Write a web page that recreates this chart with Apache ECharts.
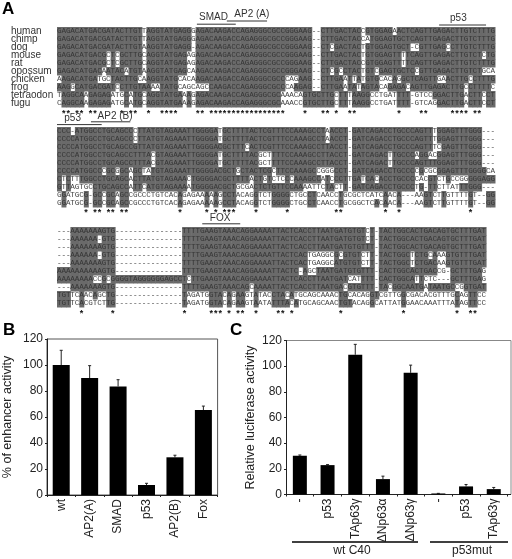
<!DOCTYPE html>
<html>
<head>
<meta charset="utf-8">
<style>
html, body { margin: 0; padding: 0; background: #fff; }
#main { width: 512px; height: 559px; }
</style>
<script src="https://cdn.jsdelivr.net/npm/echarts@6/dist/echarts.min.js"></script>
</head>
<body>
<div id="main"></div>
<script>
// species names, top to bottom
var species = ['human', 'chimp', 'dog', 'mouse', 'rat', 'opossum', 'chicken', 'frog', 'tetraodon', 'fugu'];

// alignment: upper case sits on grey, lower case and dashes on white
var block1 = [
    'GAGACATGAC GATACTTGTt AGGTATGAGG gAGACAAGAC CAGAGGGCGC CGGGAAG--C TTGACTACcG TGGAGaACTC AGTTGAGACT TGTCTTTG',
    'GAGACATGAC GATACTTGTt AGGTATGAGG gAGACAAGAC CAGAGGGCGC CGGGAAG--C TTGACTACca TGGAGTGCTC AGTTGAGACT TGTCTTTG',
    'GAGACATGAC GATACTTGTa AGGTATGAGG -AGACAAGAC CAGAGGGCGC CGGGAAG--C TcGACTACtG TGGAGTGCT- cGTTGAGcCT TGTCTTTG',
    'GAGACATGAC GcTcGCTTGc AGGTATGAGa gAGACAAGAC CAGAGGGCGC CGGGAAG--C TTGACTACtG TGGAGTTtTC AGTTGAGACT TGTCTcTG',
    'GAGACATGAC GcTcGCTTGc AGGTATGAGa gAGACAAGAC CAGAGGGCGC CGGGAAG--C TTGACTACcG TGGAGTTtTC AGTTGAGACT TGTCTTTG',
    'GAGACATGAC aATACaTGTa AGGTATGAGc aAGACAAGAC CAGAGGGCGC CGGGAAG--C TcGcCTACtG TcGAGTGCTC cGTTGAGACT TGTCTgca',
    'aAGACATGAt gcTACTTGca AGGTATGcac aAGACAAGAC CAGAGGGCGC CcagAAG--C TTGAaTtAtG TGcacAgGCT CAGTTgaACT TGcCTTTG',
    'AAGgCATGAC GATcCTTGTA AaaTATGcag cagcCAAGAC CAGAGGGCGC CcaAGAG--C TTGAaTAtAG TAcaGAGAcA GTTGAGACTT GcCTTTTc',
    'tAGGCAaGAG AGatgCaTGc AGGTATGAaA gAGACAAGAC CAGAGGGCGC aaacaGTGCT TGcTTtAAGG cctgatTTT- gtccGGACTT GaCTTcCT',
    'cAGGCAaGAG AGatgCaTGc AGGTATGAaA gAGACAAGAC CAGAGGGCGC aaaccGTGCT TGcTTtAAGG cctgatTTT- gtcagGACTT GaCTTcCT'
];
var block2 = [
    'CCC-ATGGCC TGCAGCCcTT ATGTAGAAAT TGGGGAtGCT TTTACTCGTT TCCAAAGCCT aACCT-GATC AGACCTGCCC AGTTtGGAGT TTGGG---',
    'CCCCATGGCC TGCAGCCcTT ATGTAGAAAT TGGGGAtGCT TTTACTCGTT TCCAAAGCCT aACCT-GATC AGACCTGCCC AGTTtGGAGT TTGGG---',
    'CCCCATGGCC TGCAGCCGTT ATGTAGAAAT TGGGGACGCT TTcACTCGTT TCCAAAGCCT TACCT-GATC AGACCTGCCC AGTTtcGAGT TTGGG---',
    'CCCCATGGCC TGCAGCCTTT AcGTAGAAAT TGGGGAtGCT TTTACgctTT TCCAAAGCCT TACCT-GATC AGACtTGCCC aGGacGGAGT TTGGG---',
    'CCCCATGGCC TGCAGCCTTT AcGTAGAAAT TGGGGAtGCT TTTACgctTT TCCAAAGCCT TACCT-GATC AGACtTGCCC AGTTTGGAGT TTGGG---',
    'CCCCATGGCC cGCgGCaGCt aTGTAGAAAT TGGGGACGCT gCTACTCGcT TCCAAAGCcg ggCCT-GATC AGACCTGCCC cGcgcGGAGT TTGGGGca',
    'CtCttTGGCC TGCAGCaCTT ATGTAGAAAc TGGGGACGCT TTTaCTgTct cCcAAAGCCa TcCCTtGAtC AcACCTGCCC cacGTctGcc ggGGGAGG',
    'GtTagtgcCT GCAGCCaTTc ATGTAGAAAa TGGGGACGCT gcgaCTCTGT TCCAAaattc TActT-GATC AGACCTGCCC tG-TTcttat TTGGG---',
    'gGatgcG-GC cGCaGCcgcc ctgtcacAga gaaAaAgCCT acagGtctGG GGctgcCTca accTgcgctc atcAacA--- aaGTctTgtt ttGt--GG',
    'gGatgcG-GC cGCaGCcgcc ctgtcacAga gaaAaAgCCT acagGtctGG GGctgcCTca accTgcggct cAcAacA--- aaGTctTgtt ttGt--GG'
];
var block3 = [
    '---AAAAAAA GTG------- --------TT TTGAAGTAAA CAGGAAAATT ACTCACCTTA ATGATGTGTc T-TACTGGCA CTGACAGTGC TTTGAT',
    '---AAAAAA- GTG------- --------TT TTGAAGTAAA CAGGAAAATT ACTCACCTTA ATGATGTGTc T-TACTGGCA CTGACAGTGC TTTGAT',
    '---AAAAAAA GTG------- --------TT TTGAAGTAAA CAGGAAAATT ACTCACCTTA ATGATGTGTT T-TACTGGCA CTGACAGTGC TTTGAT',
    '---AAAAAA- GTG------- --------TT TTGAAGTAAA CAGGAAAATT ACTCACtgag gcGcGTGTct T-TACTGGCt CTGcAaaGTG TTTGAT',
    '---AAAAAAA GTG------- --------TT TTGAAGTAAA CAGGAAAATT ACTCACtgag gcATGTGTct T-TACTGGCt CTGACaaGTG TTTGAT',
    'AAAAAAAAAA GTG------- --------TT TTGAAGTAAA CAGGAAAATT ACTC-AgcTA ATGATGTGTT T-CACTGGCA CTGACcg-GC TTTGAg',
    'AAAAAAAAcc GcGGGGTAGG GGGGAGCCTc TTGAAGTAAA CAGGAAAATT ACTCACCTTA ATGATcatTT T-CACTGGCA tTctc---GC TTTGAg',
    '---AAAAAAA GTG------- --------TT TTGAAGTAAA CAGcAAAATT ACTCACCTTA ATGAcGTGTT T-TAcGGCAA TGaTAATGCc gGTGAT',
    'TGTtcAacAg cTG------- --------Ta gatgGTAcAg AAgtAtacCT AcAtgcagca aacTGcacag GTcgttgGcg acacgtttgC agTTcc',
    'TGTtcAcgtc tTG------- --------Ta gatgGTAcAg AAgtAataTT TAcAtgcagc aacTGTacag GcattatGga acaaatttaT agTTcc'
];

// columns (1 based) carrying a conservation star under each block
var stars1 = [2, 3, 5, 6, 8, 9, 15, 17, 18, 21, 24, 25, 26, 27, 32, 33, 35, 36, 37, 38, 39, 40, 41, 42, 43, 44, 45, 46, 47, 48, 49, 50, 51, 56, 60, 61, 63, 66, 67, 77, 82, 83, 89, 90, 91, 92, 94, 95];
var stars2 = [7, 9, 10, 12, 13, 15, 16, 28, 34, 36, 38, 39, 40, 45, 52, 63, 64, 74, 77, 93];
var stars3 = [6, 13, 29, 35, 36, 37, 39, 41, 42, 45, 50, 51, 53, 64, 78, 90, 93, 94];

// binding site labels: text, first column, last column of the bar, bar row, text column, text row
var siteNames = ['SMAD', 'AP2 (A)', 'p53', 'p53', 'AP2 (B)', 'FOX'];
var siteFrom = [31.3, 38, 85.5, 0, 7.6, 32.5];
var siteTo = [40, 47, 96, 10, 16.4, 41];
var siteRow = [-0.35, -0.75, -0.25, 12.2, 11.85, 24.6];
var siteTextCol = [35, 43.6, 89.8, 3.5, 13, 36.5];
var siteTextRow = [-1.25, -1.65, -1.15, 11.4, 11.15, 23.85];

// panel B
var enhancerNames = ['wt', 'AP2(A)', 'SMAD', 'p53', 'AP2(B)', 'Fox'];
var enhancerValues = [100, 90, 83.5, 7.7, 29, 65.3];
var enhancerTops = [111.3, 99.5, 88.7, 9, 30.6, 68.4];

// panel C
var luciferaseNames = ['-', 'p53', 'TAp63γ', 'ΔNp63α', 'ΔNp63γ', '-', 'p53', 'TAp63γ'];
var luciferaseValues = [30.2, 22.9, 108.9, 12, 94.8, 0.8, 6.3, 4.2];
var luciferaseTops = [30.8, 23.3, 117, 14.3, 100.8, 0.9, 7.8, 5.5];

var blocks = [block1, block2, block3];
var blockStart = [0, 12.5, 25];
var starRows = [10.6, 22.9, 35.6];
var starCols = [stars1, stars2, stars3];

var font = '"Liberation Sans", Arial, sans-serif';
var cells = [];
blocks.forEach(function (block, b) {
    block.forEach(function (line, r) {
        line.replace(/ /g, '').split('').forEach(function (ch, c) {
            cells.push([c, blockStart[b] + r, ch]);
        });
    });
});

var starPoints = [];
starCols.forEach(function (cols, b) {
    cols.forEach(function (c) {
        starPoints.push([c - 1, starRows[b]]);
    });
});

var speciesPoints = [];
species.forEach(function (name, r) {
    speciesPoints.push([r, name]);
});

function isGrey(ch) {
    return ch >= 'A' && ch <= 'Z';
}

function renderShade(params, api) {
    var cell = cells[params.dataIndex];
    if (!isGrey(cell[2])) {
        return null;
    }
    var p = api.coord([cell[0], cell[1]]);
    var s = api.size([1, 1]);
    return {
        type: 'rect',
        shape: { x: p[0], y: p[1], width: s[0] + 0.5, height: s[1] + 0.5 },
        style: { fill: '#6a6a6a' }
    };
}

function renderLetter(params, api) {
    var cell = cells[params.dataIndex];
    var p = api.coord([cell[0] + 0.5, cell[1] + 0.5]);
    return {
        type: 'text',
        style: {
            x: p[0],
            y: p[1],
            text: cell[2].toUpperCase(),
            align: 'center',
            verticalAlign: 'middle',
            font: '7.6px "Liberation Mono", monospace',
            fill: isGrey(cell[2]) ? '#363636' : '#444'
        }
    };
}

function renderStar(params, api) {
    var p = api.coord([starPoints[params.dataIndex][0] + 0.5, starPoints[params.dataIndex][1]]);
    return {
        type: 'text',
        style: {
            x: p[0],
            y: p[1] + 2,
            text: '*',
            align: 'center',
            verticalAlign: 'middle',
            font: 'bold 9px ' + font,
            fill: '#111'
        }
    };
}

function renderSpecies(params, api) {
    var p = api.coord([-10.3, speciesPoints[params.dataIndex][0] + 0.5]);
    return {
        type: 'text',
        style: {
            x: p[0],
            y: p[1],
            text: speciesPoints[params.dataIndex][1],
            align: 'left',
            verticalAlign: 'middle',
            font: '10px ' + font,
            fill: '#333'
        }
    };
}

function renderSite(params, api) {
    var i = params.dataIndex;
    var a = api.coord([siteFrom[i], siteRow[i]]);
    var b = api.coord([siteTo[i], siteRow[i]]);
    var t = api.coord([siteTextCol[i], siteTextRow[i]]);
    return {
        type: 'group',
        children: [{
            type: 'line',
            shape: { x1: a[0], y1: a[1], x2: b[0], y2: b[1] },
            style: { stroke: '#333', lineWidth: 1 }
        }, {
            type: 'text',
            style: {
                x: t[0],
                y: t[1],
                text: siteNames[i],
                align: 'center',
                verticalAlign: 'middle',
                font: '10px ' + font,
                fill: '#333'
            }
        }]
    };
}

function renderError(params, api) {
    var low = api.coord([api.value(0), api.value(1)]);
    var high = api.coord([api.value(0), api.value(2)]);
    return {
        type: 'group',
        children: [{
            type: 'line',
            shape: { x1: low[0], y1: low[1], x2: high[0], y2: high[1] },
            style: { stroke: '#222', lineWidth: 1 }
        }, {
            type: 'line',
            shape: { x1: low[0] - 1.5, y1: high[1], x2: low[0] + 1.5, y2: high[1] },
            style: { stroke: '#222', lineWidth: 1 }
        }]
    };
}

function valueAxis(gridIndex, title, gap) {
    return {
        type: 'value',
        gridIndex: gridIndex,
        min: 0,
        max: 120,
        interval: 20,
        name: title,
        nameLocation: 'middle',
        nameGap: gap,
        nameTextStyle: { fontFamily: font, fontSize: 12.5, color: '#222' },
        axisLine: { show: true, lineStyle: { color: '#222' } },
        axisTick: { show: true, length: 2, lineStyle: { color: '#222' } },
        axisLabel: { fontFamily: font, fontSize: 12, color: '#222', margin: 4 },
        splitLine: { show: false }
    };
}

function categoryAxis(gridIndex, names) {
    return {
        type: 'category',
        gridIndex: gridIndex,
        data: names,
        axisLine: { show: true, lineStyle: { color: '#222' } },
        axisTick: { show: true, length: 2, lineStyle: { color: '#222' } },
        axisLabel: { fontFamily: font, fontSize: 12, color: '#222', rotate: 90, interval: 0, margin: 4 }
    };
}

function errorData(values, tops) {
    return values.map(function (v, i) {
        return [i, v, tops[i]];
    });
}

var chart = echarts.init(document.getElementById('main'), null, { renderer: 'canvas' });

chart.setOption({
    animation: false,
    backgroundColor: '#fff',
    grid: [
        { left: 57, top: 3, width: 438, height: 312 },
        { left: 46, top: 339, width: 171.6, height: 156, show: true, borderColor: '#555', borderWidth: 1, backgroundColor: 'transparent' },
        { left: 286, top: 340.5, width: 221.6, height: 154 }
    ],
    xAxis: [
        { type: 'value', gridIndex: 0, min: 0, max: 98, show: false },
        categoryAxis(1, enhancerNames),
        categoryAxis(2, luciferaseNames)
    ],
    yAxis: [
        { type: 'value', gridIndex: 0, min: -3, max: 36, inverse: true, show: false },
        valueAxis(1, '% of enhancer activity', 33),
        valueAxis(2, 'Relative luciferase activity', 29)
    ],
    series: [
        { type: 'custom', xAxisIndex: 0, yAxisIndex: 0, clip: false, silent: true, renderItem: renderShade, data: cells.map(function (c) { return [c[0], c[1]]; }) },
        { type: 'custom', xAxisIndex: 0, yAxisIndex: 0, clip: false, silent: true, renderItem: renderLetter, data: cells.map(function (c) { return [c[0], c[1]]; }) },
        { type: 'custom', xAxisIndex: 0, yAxisIndex: 0, clip: false, silent: true, renderItem: renderStar, data: starPoints },
        { type: 'custom', xAxisIndex: 0, yAxisIndex: 0, clip: false, silent: true, renderItem: renderSpecies, data: speciesPoints.map(function (s) { return [0, s[0]]; }) },
        { type: 'custom', xAxisIndex: 0, yAxisIndex: 0, clip: false, silent: true, renderItem: renderSite, data: siteNames.map(function (n, i) { return [siteFrom[i], siteRow[i]]; }) },
        { type: 'custom', xAxisIndex: 1, yAxisIndex: 1, silent: true, renderItem: renderError, data: errorData(enhancerValues, enhancerTops) },
        { type: 'bar', xAxisIndex: 1, yAxisIndex: 1, barWidth: 17, itemStyle: { color: '#000' }, data: enhancerValues },
        { type: 'custom', xAxisIndex: 2, yAxisIndex: 2, silent: true, renderItem: renderError, data: errorData(luciferaseValues, luciferaseTops) },
        { type: 'bar', xAxisIndex: 2, yAxisIndex: 2, barWidth: 14, itemStyle: { color: '#000' }, data: luciferaseValues }
    ],
    graphic: [
        { type: 'text', left: 2, top: 1, style: { text: 'A', font: 'bold 17px ' + font, fill: '#000' } },
        { type: 'text', left: 3, top: 322, style: { text: 'B', font: 'bold 17px ' + font, fill: '#000' } },
        { type: 'text', left: 230, top: 322, style: { text: 'C', font: 'bold 17px ' + font, fill: '#000' } },
        // top and right edge of panel C are grey and run past the last bar
        { type: 'polyline', shape: { points: [[286, 340.5], [511, 340.5], [511, 494.5]] }, style: { stroke: '#888', fill: null, lineWidth: 1 } },
        { type: 'line', shape: { x1: 507, y1: 494.5, x2: 511, y2: 494.5 }, style: { stroke: '#222', lineWidth: 1 } },
        // treatment groups under panel C
        { type: 'line', shape: { x1: 292, y1: 542, x2: 418, y2: 542 }, style: { stroke: '#000', lineWidth: 1.3 } },
        { type: 'line', shape: { x1: 430, y1: 542, x2: 508, y2: 542 }, style: { stroke: '#000', lineWidth: 1.3 } },
        { type: 'text', x: 352, y: 551, style: { text: 'wt C40', font: '12px ' + font, fill: '#222', align: 'center', verticalAlign: 'middle' } },
        { type: 'text', x: 472, y: 551, style: { text: 'p53mut', font: '12px ' + font, fill: '#222', align: 'center', verticalAlign: 'middle' } }
    ]
});
</script>
</body>
</html>
